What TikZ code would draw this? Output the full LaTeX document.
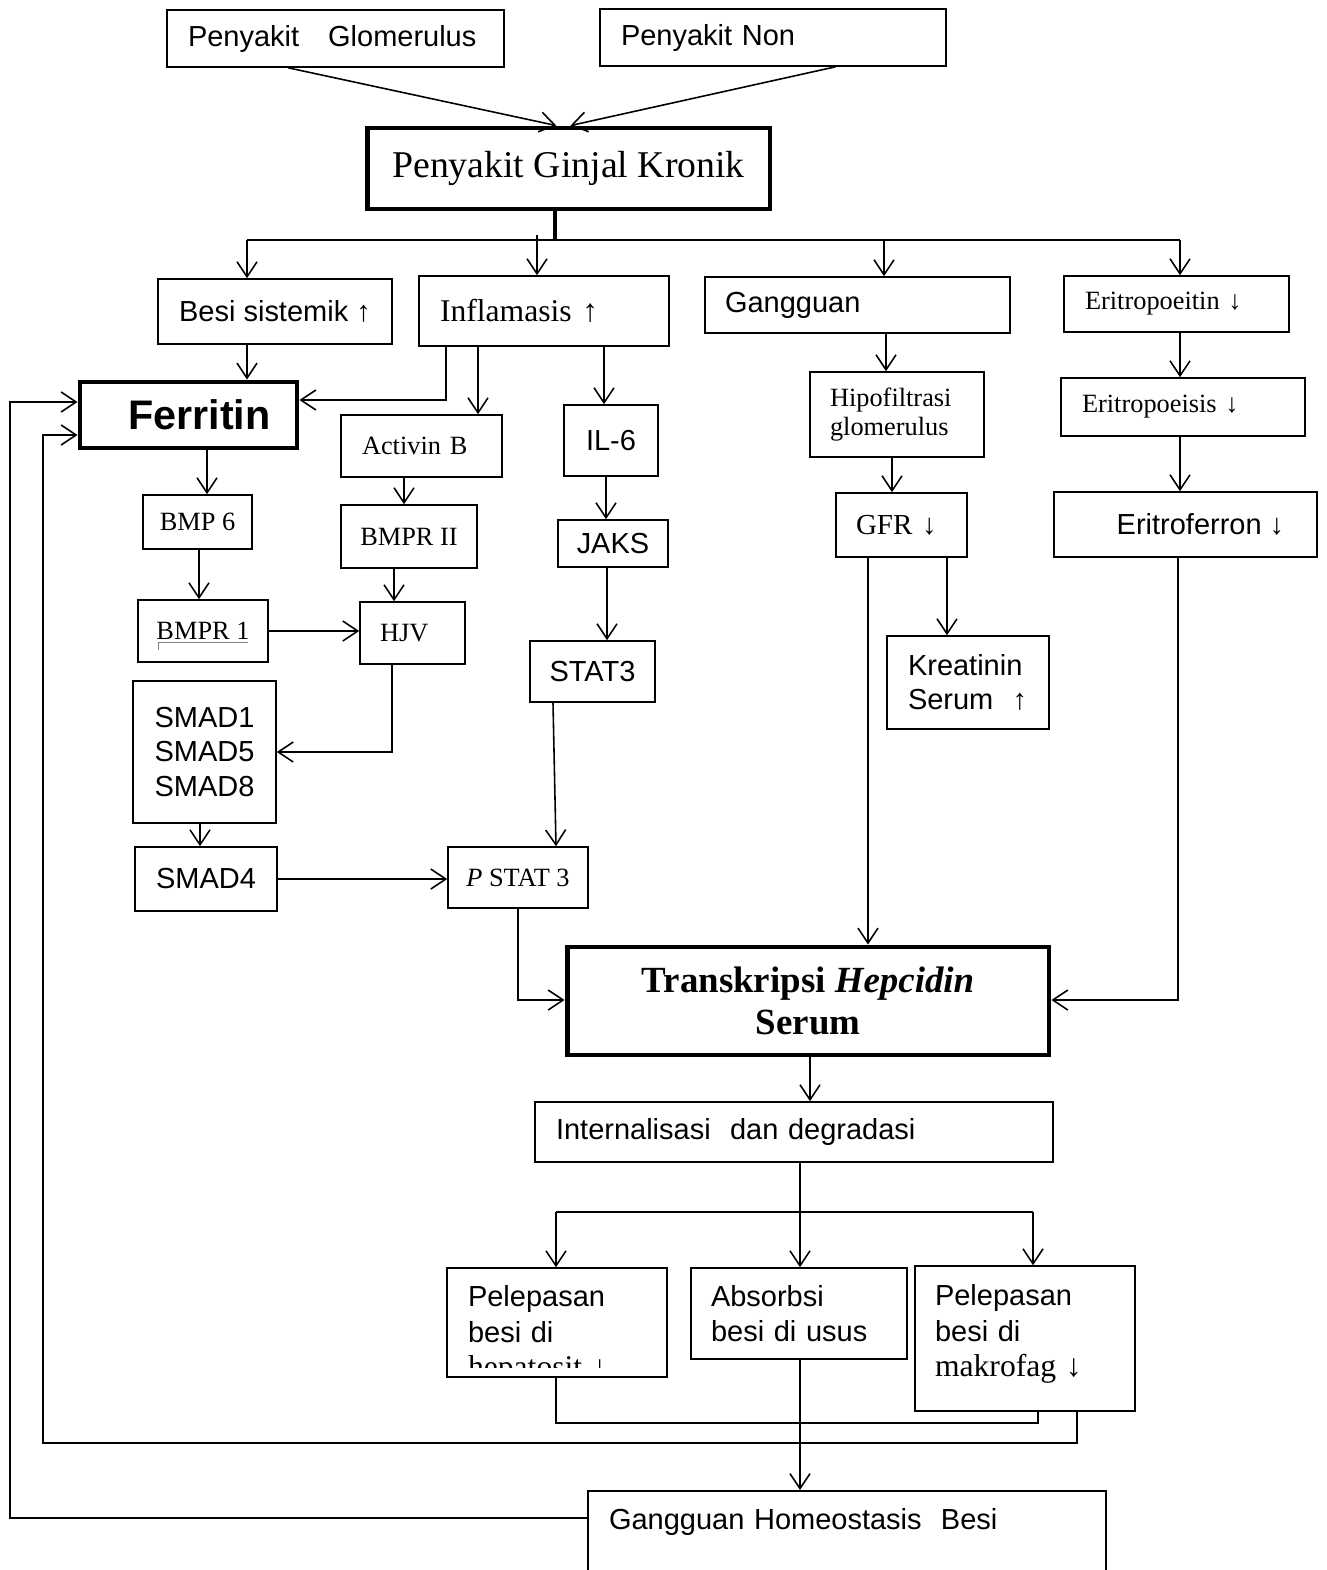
\documentclass[tikz,border=0pt]{standalone}
\usepackage{fontspec}
\setmainfont{Liberation Serif}
\setsansfont{Liberation Sans}
\usetikzlibrary{arrows.meta,calc}
\newcommand\arl{\sffamily\fontsize{16.5}{19.5}\selectfont}
\newcommand\tms{\rmfamily\fontsize{15}{17}\selectfont}
\newcommand\tml{\rmfamily\fontsize{18}{20.5}\selectfont}
\tikzset{
  box/.style={draw, line width=0.9pt, inner sep=0pt, align=center, font=\arl},
  lbox/.style={box, align=left},
  tbox/.style={box, font=\tms},
  bold/.style={box, line width=2.8pt},
  arr/.style={-{Straight Barb[length=3mm,width=4mm]}, line width=0.9pt},
  ln/.style={line width=0.9pt}}

\begin{document}
\begin{tikzpicture}[x=0.02cm, y=-0.02cm]
  \useasboundingbox (0,0) rectangle (1327,1570);
  % causes
  \node[lbox, text width=5.90cm, inner xsep=0.42cm, minimum height=1.14cm] (glom) at (335.5,38.5) {Penyakit\ \ \ Glomerulus};
  \node[lbox, text width=6.08cm, inner xsep=0.42cm, minimum height=1.14cm] (non) at (773,37.5) {Penyakit Non};
  \node[bold, minimum width=8.06cm, minimum height=1.62cm, font=\rmfamily\fontsize{21.5}{24}\selectfont] (pgk) at (568.5,168.5) {Penyakit Ginjal Kronik};
  % first row
  \node[box, minimum width=4.68cm, minimum height=1.30cm] (besi) at (275,311.5) {Besi sistemik ↑};
  \node[lbox, text width=4.16cm, inner xsep=0.42cm, minimum height=1.40cm, font=\tml] (infl) at (544,311) {Inflamasis\ ↑};
  \node[lbox, text width=5.30cm, inner xsep=0.40cm, minimum height=1.12cm] (gang) at (857.5,305) {Gangguan};
  \node[lbox, text width=3.66cm, inner xsep=0.42cm, minimum height=1.12cm, font=\tms] (epo) at (1176.5,304) {Eritropoeitin ↓};
  % left branch
  \node[bold, minimum width=4.34cm, minimum height=1.32cm, font=\sffamily\bfseries\fontsize{23.5}{26}\selectfont] (ferritin) at (188.5,415) {\hspace*{0.44cm}Ferritin};
  \node[lbox, text width=2.38cm, inner xsep=0.42cm, minimum height=1.24cm, font=\tms] (activin) at (421.5,446) {Activin B};
  \node[box, minimum width=1.88cm, minimum height=1.42cm] (il6) at (611,440.5) {IL-6};
  \node[tbox, minimum width=2.18cm, minimum height=1.08cm] (bmp6) at (197.5,522) {BMP 6};
  \node[tbox, minimum width=2.72cm, minimum height=1.26cm] (bmpr2) at (409,536.5) {BMPR II};
  \node[box, minimum width=2.20cm, minimum height=0.94cm] (jaks) at (613,543.5) {JAKS};
  \node[tbox, minimum width=2.60cm, minimum height=1.24cm] (bmpr1) at (203,631) {BMPR 1};
  \node[lbox, text width=1.30cm, inner xsep=0.40cm, minimum height=1.24cm, font=\tms] (hjv) at (412.5,633) {HJV};
  \node[box, minimum width=2.50cm, minimum height=1.22cm] (stat3) at (592.5,671.5) {STAT3};
  \node[box, minimum width=2.86cm, minimum height=2.84cm] (smad) at (204.5,752) {SMAD1\\SMAD5\\SMAD8};
  \node[box, minimum width=2.84cm, minimum height=1.28cm] (smad4) at (206,879) {SMAD4};
  \node[tbox, minimum width=2.80cm, minimum height=1.22cm] (pstat3) at (518,877.5) {\textit{P} STAT 3};
  \draw[gray, line width=0.4pt] (158,650) -- (158,642) -- (248,642);
  % right branches
  \node[lbox, text width=2.68cm, inner xsep=0.40cm, minimum height=1.70cm, font=\tms] (hipo) at (897,414.5) {Hipofiltrasi\\glomerulus};
  \node[lbox, text width=1.82cm, inner xsep=0.40cm, minimum height=1.28cm, font=\rmfamily\fontsize{16.5}{19}\selectfont] (gfr) at (901.5,525) {GFR ↓};
  \node[lbox, text width=2.40cm, inner xsep=0.42cm, minimum height=1.86cm] (kreat) at (968,682.5) {Kreatinin\\Serum\ \ ↑};
  \node[lbox, text width=4.04cm, inner xsep=0.42cm, minimum height=1.16cm, font=\tms] (erp) at (1183,407) {Eritropoeisis ↓};
  \node[box, minimum width=5.26cm, minimum height=1.30cm] (erf) at (1185.5,524.5) {\hspace*{0.6cm}Eritroferron ↓};
  % hepcidin and below
  \node[bold, minimum width=9.64cm, minimum height=2.16cm, font=\rmfamily\bfseries\fontsize{21}{24}\selectfont] (hepc) at (808,1001) {Transkripsi \textit{Hepcidin}\\Serum};
  \node[lbox, text width=9.52cm, inner xsep=0.42cm, minimum height=1.20cm] (intern) at (794,1132) {Internalisasi\ \ dan degradasi};
  \node[box, minimum width=4.40cm, minimum height=2.18cm, path picture={
      \clip (path picture bounding box.north west) rectangle ([yshift=0.2cm]path picture bounding box.south east);
      \node[draw=none, align=left, text width=3.56cm, inner sep=0pt, font=\sffamily\fontsize{16.5}{20.4}\selectfont]
        (heptxt) at ([yshift=-0.25cm]path picture bounding box.center) {Pelepasan\\besi di\\{\tml hepatosit ↓}};
    }] (hept) at (557,1322.5) {};
  \node[lbox, text width=3.52cm, inner xsep=0.40cm, minimum height=1.82cm, font=\sffamily\fontsize{16.5}{20.2}\selectfont] (abs) at (799,1313.5) {Absorbsi\\besi di usus};
  \node[lbox, text width=3.60cm, inner xsep=0.40cm, minimum height=2.90cm, text depth=1.75cm, font=\sffamily\fontsize{16.5}{20.4}\selectfont] (mak) at (1025,1338.5) {Pelepasan\\besi di\\{\tml makrofag ↓}};
  \node[lbox, text width=9.52cm, inner xsep=0.42cm, anchor=north, text height=0.78cm, text depth=1.6cm] (ghb) at (847,1490) {Gangguan Homeostasis\ \ Besi};

  % top connectors
  \draw[arr] ($(glom.south west)!0.36!(glom.south east)$) -- ($(pgk.north west)!0.47!(pgk.north east)$);
  \draw[arr] ($(non.south west)!0.68!(non.south east)$) -- ($(pgk.north west)!0.505!(pgk.north east)$);
  \coordinate (bus) at (555,240);
  \coordinate (busL) at (247,240);
  \coordinate (busR) at (1180,240);
  \draw[line width=2.6pt] (pgk.south -| bus) -- (bus);
  \draw[line width=1.4pt] (busL) -- (busR);
  \draw[arr] (busL) -- (busL |- besi.north);
  \draw[arr] (537,235) -- (537,0 |- infl.north);
  \draw[arr] (884,240) -- (884,0 |- gang.north);
  \draw[arr] (busR) -- (busR |- epo.north);
  % left side
  \draw[arr] (247,0 |- besi.south) -- (247,0 |- ferritin.north);
  \coordinate (f1) at (446,400);
  \draw[arr] (f1 |- infl.south) -- (f1) -- (f1 -| ferritin.east);
  \draw[arr] (478,0 |- infl.south) -- (478,0 |- activin.north);
  \draw[arr] (604,0 |- infl.south) -- (604,0 |- il6.north);
  \draw[arr] (207,0 |- ferritin.south) -- (207,0 |- bmp6.north);
  \draw[arr] (404,0 |- activin.south) -- (404,0 |- bmpr2.north);
  \draw[arr] (199,0 |- bmp6.south) -- (199,0 |- bmpr1.north);
  \draw[arr] (394,0 |- bmpr2.south) -- (394,0 |- hjv.north);
  \draw[arr] (606,0 |- il6.south) -- (606,0 |- jaks.north);
  \draw[arr] (607,0 |- jaks.south) -- (607,0 |- stat3.north);
  \draw[arr] (bmpr1.east) -- (bmpr1.east -| hjv.west);
  \coordinate (h1) at (392,752);
  \draw[arr] (h1 |- hjv.south) -- (h1) -- (h1 -| smad.east);
  \draw[arr] (553,0 |- stat3.south) -- (556,0 |- pstat3.north);
  \draw[arr] (200,0 |- smad.south) -- (200,0 |- smad4.north);
  \draw[arr] (smad4.east) -- (smad4.east -| pstat3.west);
  \coordinate (p1) at (518,1000);
  \draw[arr] (p1 |- pstat3.south) -- (p1) -- (p1 -| hepc.west);
  % right side
  \draw[arr] (886,0 |- gang.south) -- (886,0 |- hipo.north);
  \draw[arr] (892,0 |- hipo.south) -- (892,0 |- gfr.north);
  \draw[arr] (947,0 |- gfr.south) -- (947,0 |- kreat.north);
  \draw[arr] (868,0 |- gfr.south) -- (868,0 |- hepc.north);
  \draw[arr] (1180,0 |- epo.south) -- (1180,0 |- erp.north);
  \draw[arr] (1180,0 |- erp.south) -- (1180,0 |- erf.north);
  \coordinate (e1) at (1178,1000);
  \draw[arr] (e1 |- erf.south) -- (e1) -- (e1 -| hepc.east);
  % bottom
  \draw[arr] (810,0 |- hepc.south) -- (810,0 |- intern.north);
  \draw[arr] (800,0 |- intern.south) -- (800,0 |- abs.north);
  \coordinate (d1) at (556,1212);
  \coordinate (d2) at (1033,1212);
  \draw[line width=1.3pt] (d1) -- (d2);
  \draw[arr] (d1) -- (d1 |- hept.north);
  \draw[arr] (d2) -- (d2 |- mak.north);
  \coordinate (r1) at (556,1423);
  \coordinate (r2) at (1038,1423);
  \draw[ln] (r1 |- hept.south) -- (r1) -- (r2) -- (r2 |- mak.south);
  \coordinate (l1) at (1077,1443);
  \coordinate (l2) at (43,1443);
  \coordinate (l3) at (43,435);
  \draw[arr] (l1 |- mak.south) -- (l1) -- (l2) -- (l3) -- (l3 -| ferritin.west);
  \draw[arr] (800,0 |- abs.south) -- (800,0 |- ghb.north);
  \coordinate (g1) at (10,1518);
  \coordinate (g2) at (10,402);
  \draw[arr] (g1 -| ghb.west) -- (g1) -- (g2) -- (g2 -| ferritin.west);
\end{tikzpicture}
\end{document}
